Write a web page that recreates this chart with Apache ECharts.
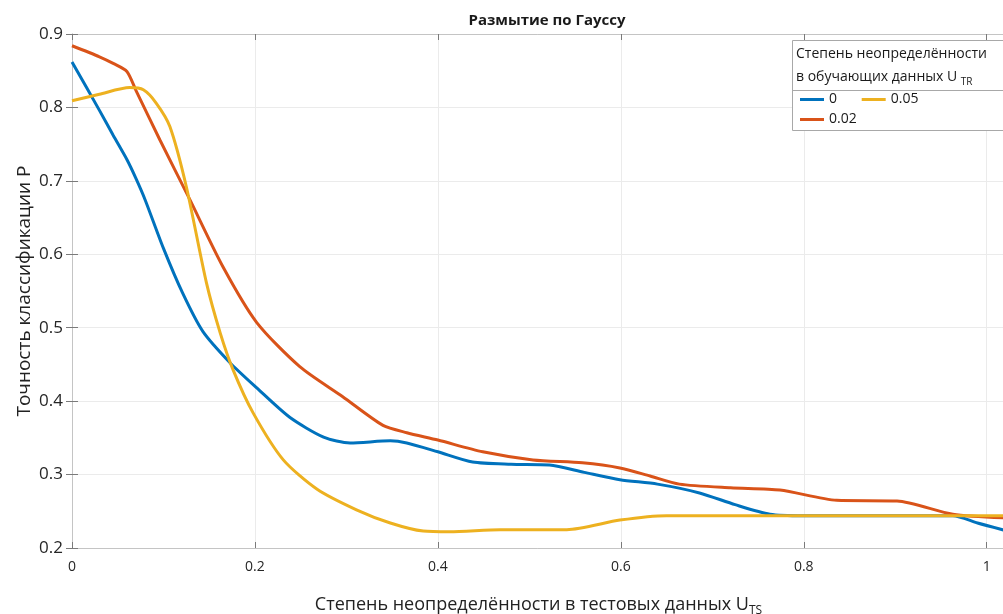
<!DOCTYPE html>
<html>
<head>
<meta charset="utf-8">
<script src="https://cdn.jsdelivr.net/npm/echarts@6/dist/echarts.min.js"></script>
<style>
  html, body { margin: 0; padding: 0; background: #fff; }
  #chart { width: 1003px; height: 614px; }
</style>
</head>
<body>
<div id="chart"></div>
<script>
// Classification accuracy P versus test-data uncertainty U_TS (Gaussian blur),
// one curve per training-data uncertainty U_TR.
const seriesNames = ['0', '0.02', '0.05'];

const accU0 = [
  [0, 0.862], [0.03, 0.796], [0.045, 0.762], [0.06, 0.729], [0.07, 0.703],
  [0.08, 0.674], [0.10, 0.608], [0.121, 0.547], [0.143, 0.495], [0.173, 0.452],
  [0.202, 0.418], [0.238, 0.378], [0.275, 0.351], [0.304, 0.343], [0.348, 0.346],
  [0.366, 0.343], [0.40, 0.331], [0.438, 0.317], [0.48, 0.314], [0.522, 0.313],
  [0.56, 0.303], [0.599, 0.293], [0.64, 0.287], [0.686, 0.275], [0.725, 0.259],
  [0.763, 0.246], [0.80, 0.244], [0.90, 0.244], [0.963, 0.244], [0.99, 0.234],
  [1.02, 0.224]
];

const accU002 = [
  [0, 0.884], [0.03, 0.869], [0.045, 0.860], [0.06, 0.849], [0.07, 0.823],
  [0.096, 0.756], [0.129, 0.674], [0.165, 0.583], [0.202, 0.507], [0.249, 0.447],
  [0.296, 0.406], [0.34, 0.367], [0.366, 0.357], [0.40, 0.347], [0.449, 0.331],
  [0.504, 0.320], [0.558, 0.316], [0.599, 0.309], [0.632, 0.298], [0.664, 0.287],
  [0.72, 0.282], [0.774, 0.279], [0.836, 0.265], [0.902, 0.264], [0.963, 0.246],
  [1.02, 0.241]
];

const accU005 = [
  [0, 0.809], [0.03, 0.818], [0.063, 0.827], [0.078, 0.824], [0.092, 0.806],
  [0.107, 0.774], [0.125, 0.692], [0.147, 0.561], [0.162, 0.493], [0.176, 0.443],
  [0.198, 0.384], [0.231, 0.320], [0.268, 0.280], [0.311, 0.252], [0.348, 0.234],
  [0.384, 0.223], [0.413, 0.222], [0.468, 0.225], [0.541, 0.225], [0.599, 0.238],
  [0.65, 0.244], [0.80, 0.244], [1.02, 0.244]
];

const seriesData = [accU0, accU002, accU005];
const seriesColors = ['#0072BD', '#D95319', '#EDB120'];

const FONT = '"Open Sans", "Noto Sans", sans-serif';
const AXIS_GREY = '#c4c4c4';
const TICK_GREY = '#7a7a7a';

const chart = echarts.init(document.getElementById('chart'), null, { renderer: 'canvas' });

const series = seriesNames.map((name, i) => ({
  name: name,
  type: 'line',
  data: seriesData[i],
  smooth: 0.25,
  symbol: 'none',
  lineStyle: { color: seriesColors[i], width: 3 },
  itemStyle: { color: seriesColors[i] },
  z: 3
}));

const boxAxisCommon = {
  axisLine: { show: true, lineStyle: { color: AXIS_GREY, width: 1 } },
  axisTick: { show: true, inside: true, length: 6, lineStyle: { color: TICK_GREY } },
  axisLabel: { show: false },
  splitLine: { show: false }
};

chart.setOption({
  animation: false,
  backgroundColor: '#ffffff',
  textStyle: { fontFamily: FONT },
  title: {
    text: 'Размытие по Гауссу',
    left: 542,
    top: 8,
    textAlign: 'center',
    textStyle: { fontFamily: FONT, fontSize: 15, fontWeight: 'bold', color: '#1a1a1a' }
  },
  grid: {
    left: 72, top: 34, width: 933, height: 514,
    containLabel: false,
    outerBoundsMode: 'none'
  },
  xAxis: [
    {
      type: 'value',
      min: 0, max: 1.02, interval: 0.2,
      name: 'Степень неопределённости в тестовых данных U{s|TS}',
      nameLocation: 'middle',
      nameGap: 45,
      nameTextStyle: {
        fontFamily: FONT, fontSize: 18, color: '#222', lineHeight: 24,
        rich: { s: { fontFamily: FONT, fontSize: 12, color: '#222', lineHeight: 12, verticalAlign: 'bottom' } }
      },
      axisLine: { show: true, onZero: false, lineStyle: { color: AXIS_GREY, width: 1 } },
      axisTick: { show: true, inside: true, length: 6, lineStyle: { color: TICK_GREY } },
      axisLabel: {
        fontFamily: FONT, fontSize: 14, color: '#262626', margin: 12,
        showMaxLabel: false,
        formatter: v => (Math.abs(v * 5 - Math.round(v * 5)) < 1e-6 ? String(+v.toFixed(1)) : '')
      },
      splitLine: { show: true, lineStyle: { color: '#ebebeb', width: 1 } }
    },
    Object.assign({ type: 'value', position: 'top', min: 0, max: 1.02, interval: 0.2 }, boxAxisCommon)
  ],
  yAxis: [
    {
      type: 'value',
      min: 0.2, max: 0.9, interval: 0.1,
      name: 'Точность классификации P',
      nameLocation: 'middle',
      nameGap: 38,
      nameMoveOverlap: false,
      nameRotate: 90,
      nameTextStyle: { fontFamily: FONT, fontSize: 19, color: '#222' },
      axisLine: { show: true, onZero: false, lineStyle: { color: AXIS_GREY, width: 1 } },
      axisTick: { show: true, inside: true, length: 6, lineStyle: { color: TICK_GREY } },
      axisLabel: {
        fontFamily: FONT, fontSize: 17, color: '#262626', margin: 9,
        formatter: v => String(+v.toFixed(1))
      },
      splitLine: { show: true, lineStyle: { color: '#ebebeb', width: 1 } }
    },
    Object.assign({ type: 'value', position: 'right', min: 0.2, max: 0.9, interval: 0.1 }, boxAxisCommon)
  ],
  legend: {
    data: seriesNames,
    orient: 'vertical',
    left: 800,
    top: 92,
    height: 42,
    itemWidth: 24,
    itemHeight: 3,
    itemGap: 5,
    icon: 'rect',
    padding: 0,
    textStyle: { fontFamily: FONT, fontSize: 14, color: '#1a1a1a', lineHeight: 15 },
    z: 20
  },
  graphic: [
    {
      type: 'rect',
      z: 10,
      shape: { x: 792.5, y: 40.5, width: 230, height: 90 },
      style: { fill: '#ffffff', stroke: '#a8a8a8', lineWidth: 1 }
    },
    {
      type: 'line',
      z: 11,
      shape: { x1: 792.5, y1: 90.5, x2: 1010, y2: 90.5 },
      style: { stroke: '#a8a8a8', lineWidth: 1 }
    },
    {
      type: 'text',
      z: 12,
      x: 796, y: 54,
      style: { text: 'Степень неопределённости', font: '14px ' + FONT, fill: '#1a1a1a', verticalAlign: 'middle' }
    },
    {
      type: 'text',
      z: 12,
      x: 796, y: 77,
      style: {
        text: 'в обучающих данных U {s|TR}',
        font: '14px ' + FONT, fill: '#1a1a1a', verticalAlign: 'middle',
        lineHeight: 20,
        rich: { s: { fontFamily: FONT, fontSize: 10, fill: '#1a1a1a', lineHeight: 10, verticalAlign: 'bottom' } }
      }
    }
  ],
  series: series
});
</script>
</body>
</html>
